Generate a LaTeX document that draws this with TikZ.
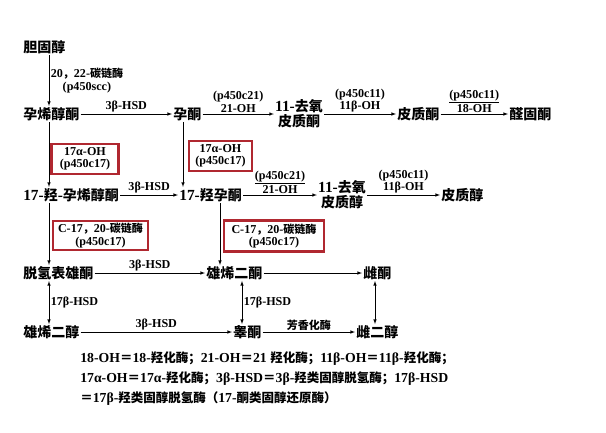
\documentclass[tikz,border=0pt]{standalone}
\usepackage{fontspec}
\setmainfont[Scale=1.1]{Liberation Serif}
\newfontfamily\zhfont{Noto Sans CJK SC}
\newcommand{\zh}[1]{{\zhfont #1}}
\definecolor{boxred}{RGB}{176,40,48}
\begin{document}
\begin{tikzpicture}[x=1pt, y=-1pt, >=latex, semithick,
        compound/.style={anchor=west, inner sep=1pt, align=center, font=\fontsize{14}{15}\selectfont\bfseries},
        enzyme/.style={inner sep=1.5pt, align=center, font=\fontsize{11}{12.5}\selectfont\bfseries},
        redbox/.style={enzyme, draw=boxred, line width=2.4pt, inner sep=0pt}]
    \useasboundingbox (0, 0) rectangle (606, 432);
    \coordinate (lx) at (49, 0);
    \coordinate (mx) at (183, 0);
    \coordinate (rx) at (220, 0);
    \coordinate (ax) at (242, 0);
    \coordinate (ex) at (375, 0);
    \node[compound] (chol) at (22, 47) {\zh{胆固醇}};
    \node[compound] (preg) at (22, 114) {\zh{孕烯醇酮}};
    \node[compound] (prog) at (172, 114) {\zh{孕酮}};
    \node[compound, anchor=center] (doc) at (299, 114) {11-\zh{去氧}\\\zh{皮质酮}};
    \node[compound] (cort) at (396, 114) {\zh{皮质酮}};
    \node[compound] (aldo) at (508, 114) {\zh{醛固酮}};
    \node[compound] (ohpreg) at (22, 195) {17-\zh{羟}-\zh{孕烯醇酮}};
    \node[compound] (ohprog) at (178, 195) {17-\zh{羟孕酮}};
    \node[compound, anchor=center] (dcol) at (342, 195) {11-\zh{去氧}\\\zh{皮质醇}};
    \node[compound] (cisol) at (440, 195) {\zh{皮质醇}};
    \node[compound] (dhea) at (22, 273) {\zh{脱氢表雄酮}};
    \node[compound] (adione) at (205, 273) {\zh{雄烯二酮}};
    \node[compound] (estrone) at (362, 273) {\zh{雌酮}};
    \node[compound] (adiol) at (22, 332) {\zh{雄烯二醇}};
    \node[compound] (testo) at (232, 332) {\zh{睾酮}};
    \node[compound] (estdiol) at (355, 332) {\zh{雌二醇}};
    \node[redbox, minimum width=67, minimum height=30] (hydA) at (85, 159) {17α-OH\\(p450c17)};
    \node[redbox, minimum width=63, minimum height=30] (hydB) at (220.5, 156) {17α-OH\\(p450c17)};
    \node[redbox, minimum width=95, minimum height=29] (lyaA) at (100.5, 235.5) {C-17\zh{，}20-\zh{碳链酶}\\(p450c17)};
    \node[redbox, minimum width=100, minimum height=31] (lyaB) at (274, 236) {C-17\zh{，}20-\zh{碳链酶}\\(p450c17)};
    \draw[->] (chol.south -| lx) -- node[enzyme, right] {20\zh{，}22-\zh{碳链酶}\\(p450scc)} (preg.north -| lx);
    \draw[->] (preg) -- node[enzyme, above] {3β-HSD} (prog);
    \draw[->] (prog) -- node[enzyme, above] {(p450c21)\\21-OH} (doc);
    \draw[->] (doc) -- node[enzyme, above] {(p450c11)\\11β-OH} (cort);
    \draw[->] (cort) -- node[enzyme, above] {\underline{(p450c11)}\\18-OH} (aldo);
    \draw[->] (preg.south -| lx) -- (ohpreg.north -| lx);
    \draw[->] (prog.south -| mx) -- (ohprog.north -| mx);
    \draw[->] (ohpreg) -- node[enzyme, above] {3β-HSD} (ohprog);
    \draw[->] (ohprog) -- node[enzyme, above] {\underline{(p450c21)}\\21-OH} (dcol);
    \draw[->] (dcol) -- node[enzyme, above] {(p450c11)\\11β-OH} (cisol);
    \draw[->] (ohpreg.south -| lx) -- (dhea.north -| lx);
    \draw[->] (ohprog.south -| rx) -- (adione.north -| rx);
    \draw[->] (dhea) -- node[enzyme, above] {3β-HSD} (adione);
    \draw[->] (adione) -- (estrone);
    \draw[<->] (dhea.south -| lx) -- node[enzyme, right] {17β-HSD} (adiol.north -| lx);
    \draw[<->] (adione.south -| ax) -- node[enzyme, right] {17β-HSD} (testo.north -| ax);
    \draw[<->] (estrone.south -| ex) -- (estdiol.north -| ex);
    \draw[->] (adiol) -- node[enzyme, above] {3β-HSD} (testo);
    \draw[->] (testo) -- node[enzyme, above] {\zh{芳香化酶}} (estdiol);
    \node[anchor=north west, align=left, inner sep=0pt, font=\fontsize{12.5}{20}\selectfont\bfseries] (legend) at (80, 351) {18-OH\zh{＝}18-\zh{羟化酶；}21-OH\zh{＝}21 \zh{羟化酶；}11β-OH\zh{＝}11β-\zh{羟化酶；}\\17α-OH\zh{＝}17α-\zh{羟化酶；}3β-HSD\zh{＝}3β-\zh{羟类固醇脱氢酶；}17β-HSD\\\zh{＝}17β-\zh{羟类固醇脱氢酶（}17-\zh{酮类固醇还原酶）}};
\end{tikzpicture}
\end{document}
